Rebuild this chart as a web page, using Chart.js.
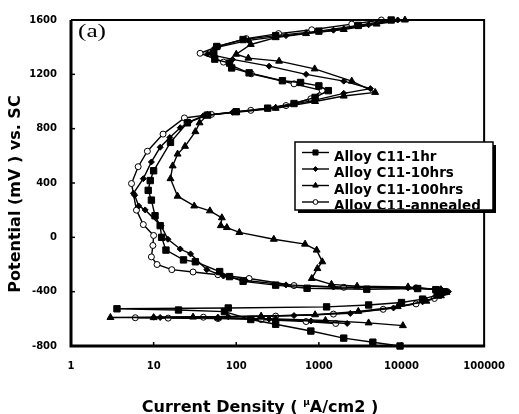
<!DOCTYPE html>
<html>
<head>
<meta charset="utf-8">
<style>
  html, body { margin: 0; padding: 0; background: #fff; }
  #wrap { width: 519px; height: 414px; }
</style>
<script src="https://cdn.jsdelivr.net/npm/chart.js"></script>
</head>
<body>
<div id="wrap"><canvas id="chart" width="519" height="414"></canvas></div>
<script>
// current density in uA/cm2, potential in mV (scan order)
const seriesLabels = ['Alloy C11-1hr', 'Alloy C11-10hrs', 'Alloy C11-100hrs', 'Alloy C11-annealed'];

const hr1Current = [9600, 4500, 2000, 800, 300, 150, 72, 20, 3.6, 80, 1240, 4000, 10000, 18000, 27000, 33000, 26000, 15700, 3800, 720, 300, 121, 83, 63, 32, 23, 14.1, 12.5, 12, 10.4, 9.4, 8.6, 9.1, 10, 16, 25.6, 45, 100, 240, 500, 900, 1300, 1000, 600, 362, 143, 88, 83, 55, 53.5, 58, 121, 300, 1000, 3000, 7500];
const hr1Potential = [-800, -772, -742, -690, -640, -605, -547, -535, -526, -520, -512, -498, -480, -455, -425, -400, -385, -377, -382, -375, -352, -324, -289, -252, -180, -166, -94, 0, 86, 159, 274, 346, 418, 490, 699, 843, 900, 925, 951, 985, 1030, 1080, 1115, 1140, 1153, 1211, 1247, 1283, 1312, 1355, 1405, 1456, 1485, 1518, 1560, 1600];

const hr10Current = [2200, 800, 250, 60, 12, 10, 80, 500, 2400, 8000, 18000, 30000, 37000, 30000, 12000, 1500, 400, 130, 70, 44, 28, 21, 14.9, 12.3, 7.9, 6.6, 5.9, 5.7, 7.5, 9.4, 12, 15.7, 21, 27, 40, 90, 300, 900, 2000, 4200, 2000, 700, 250, 90, 45, 55, 140, 400, 1500, 4000, 9000];
const hr10Potential = [-634, -616, -602, -594, -590, -588, -584, -576, -560, -520, -475, -430, -400, -382, -372, -366, -350, -318, -285, -238, -122, -86, -14, 86, 202, 231, 310, 324, 432, 555, 663, 735, 807, 850, 895, 920, 955, 1010, 1060, 1095, 1150, 1200, 1260, 1310, 1350, 1395, 1450, 1485, 1525, 1565, 1600];

const hr100Current = [10400, 4000, 1200, 300, 60, 10, 3, 30, 200, 900, 3000, 9000, 20000, 30000, 35000, 30000, 12000, 2900, 1420, 820, 960, 1100, 940, 680, 285, 109, 77, 65, 67, 48, 31, 19.5, 16, 17, 19.5, 24, 32, 36, 45, 100, 300, 900, 2000, 4800, 2500, 890, 330, 140, 100, 150, 300, 700, 2000, 5000, 11000];
const hr100Potential = [-650, -630, -612, -600, -594, -591, -590, -587, -580, -570, -545, -510, -470, -430, -405, -385, -365, -360, -346, -303, -230, -180, -94, -50, -14, 36, 72, 86, 144, 195, 231, 303, 432, 526, 613, 670, 778, 843, 900, 920, 950, 1000, 1040, 1067, 1150, 1240, 1297, 1319, 1348, 1420, 1470, 1500, 1530, 1570, 1600];

const annealedCurrent = [1600, 700, 200, 60, 15, 6, 40, 300, 1500, 6000, 15000, 25000, 32000, 28000, 15000, 2000, 500, 143, 60, 30, 16.6, 11, 9.4, 9.8, 10, 7.5, 6.2, 5.4, 6.5, 8.4, 13, 23.6, 50, 150, 400, 800, 1100, 500, 152, 70, 36.5, 60, 132, 325, 820, 2500, 5700];
const annealedPotential = [-634, -620, -605, -598, -595, -592, -588, -580, -565, -530, -490, -450, -410, -385, -372, -368, -355, -303, -275, -255, -238, -200, -144, -60, 14, 94, 200, 396, 520, 634, 760, 879, 905, 935, 970, 1020, 1080, 1130, 1204, 1290, 1355, 1405, 1463, 1500, 1528, 1570, 1600];

const currentTicks = [1, 10, 100, 1000, 10000, 100000];
const potentialTicks = [-800, -400, 0, 400, 800, 1200, 1600];

function pairs(xs, ys) {
  return xs.map((v, i) => ({ x: v, y: ys[i] }));
}

function makeSet(label, xs, ys, style, radius, fill) {
  return {
    label: label,
    data: pairs(xs, ys),
    showLine: true,
    borderColor: '#000',
    borderWidth: 1.4,
    pointStyle: style,
    pointRadius: radius,
    pointBackgroundColor: fill,
    pointBorderColor: '#000',
    pointBorderWidth: 1,
    tension: 0,
    clip: false
  };
}

function drawMarker(ctx, style, x, y, r) {
  ctx.beginPath();
  if (style === 'rect') {
    const s = r * Math.SQRT1_2;
    ctx.rect(x - s, y - s, 2 * s, 2 * s);
  } else if (style === 'rectRot') {
    ctx.moveTo(x, y - r); ctx.lineTo(x + r, y); ctx.lineTo(x, y + r); ctx.lineTo(x - r, y);
    ctx.closePath();
  } else if (style === 'triangle') {
    let a = 0;
    ctx.moveTo(x + Math.sin(a) * r, y - Math.cos(a) * r);
    a += Math.PI * 2 / 3;
    ctx.lineTo(x + Math.sin(a) * r, y - Math.cos(a) * r);
    a += Math.PI * 2 / 3;
    ctx.lineTo(x + Math.sin(a) * r, y - Math.cos(a) * r);
    ctx.closePath();
  } else {
    ctx.arc(x, y, r, 0, Math.PI * 2);
  }
  ctx.fill();
  ctx.stroke();
}

const boldFont = 'DejaVu Sans';

const decorations = {
  id: 'decorations',
  afterDraw(chart) {
    const ctx = chart.ctx;
    const a = chart.chartArea;
    const xs = chart.scales.x, ys = chart.scales.y;
    ctx.save();
    ctx.strokeStyle = '#000';
    ctx.fillStyle = '#000';

    // frame
    ctx.lineWidth = 2;
    ctx.beginPath();
    ctx.moveTo(a.left, a.top); ctx.lineTo(a.right, a.top); ctx.lineTo(a.right, a.bottom);
    ctx.stroke();
    ctx.lineWidth = 3;
    ctx.beginPath();
    ctx.moveTo(a.left, a.top); ctx.lineTo(a.left, a.bottom); ctx.lineTo(a.right + 1, a.bottom);
    ctx.stroke();

    // inward tick marks
    ctx.lineWidth = 1.5;
    currentTicks.slice(1, -1).forEach(v => {
      const px = xs.getPixelForValue(v);
      ctx.beginPath(); ctx.moveTo(px, a.bottom); ctx.lineTo(px, a.bottom - 4); ctx.stroke();
    });
    potentialTicks.slice(1, -1).forEach(v => {
      const py = ys.getPixelForValue(v);
      ctx.beginPath(); ctx.moveTo(a.left, py); ctx.lineTo(a.left + 4, py); ctx.stroke();
    });

    // axis titles
    ctx.save();
    ctx.translate(15.5, 194);
    ctx.rotate(-Math.PI / 2);
    ctx.font = 'bold 16px ' + boldFont;
    ctx.textAlign = 'center';
    ctx.textBaseline = 'middle';
    ctx.fillText('Potential (mV ) vs. SC', 0, 0);
    ctx.restore();

    const big = 'bold 16px ' + boldFont, small = 'bold 9px ' + boldFont;
    const p1 = 'Current Density ( ', mu = '\u00b5', p2 = 'A/cm2 )';
    ctx.font = big;
    const w1 = ctx.measureText(p1).width, w3 = ctx.measureText(p2).width;
    ctx.font = small;
    const w2 = ctx.measureText(mu).width;
    let tx = 260 - (w1 + w2 + w3) / 2;
    const base = 412;
    ctx.textAlign = 'left';
    ctx.textBaseline = 'alphabetic';
    ctx.font = big; ctx.fillText(p1, tx, base); tx += w1;
    ctx.font = small; ctx.fillText(mu, tx, base - 7); tx += w2;
    ctx.font = big; ctx.fillText(p2, tx, base);

    // panel label
    ctx.save();
    ctx.translate(78, 37);
    ctx.scale(1.4, 1);
    ctx.font = '18px "Liberation Serif"';
    ctx.fillText('(a)', 0, 0);
    ctx.restore();

    // legend box with shadow
    const bx = 295, by = 142, bw = 198, bh = 68;
    ctx.fillRect(bx + 3, by + 3, bw, bh);
    ctx.fillStyle = '#fff';
    ctx.fillRect(bx, by, bw, bh);
    ctx.fillStyle = '#000';
    ctx.lineWidth = 1.5;
    ctx.strokeRect(bx, by, bw, bh);

    ctx.save();
    ctx.beginPath();
    ctx.rect(bx + 1, by + 1, bw - 2, bh - 2);
    ctx.clip();
    ctx.font = 'bold 13.5px ' + boldFont;
    chart.data.datasets.forEach((ds, i) => {
      const baseY = 160.5 + i * 16.5;
      const ly = baseY - 8;
      ctx.lineWidth = 1.4;
      ctx.beginPath(); ctx.moveTo(302, ly); ctx.lineTo(329, ly); ctx.stroke();
      ctx.lineWidth = 1;
      ctx.fillStyle = ds.pointBackgroundColor;
      drawMarker(ctx, ds.pointStyle, 315.5, ly, ds.pointRadius * 0.8);
      ctx.fillStyle = '#000';
      ctx.fillText(ds.label, 334, baseY);
    });
    ctx.restore();

    ctx.restore();
  }
};

const tickFont = { family: boldFont, weight: 'bold', size: 10 };

new Chart(document.getElementById('chart'), {
  type: 'scatter',
  data: {
    datasets: [
      makeSet(seriesLabels[0], hr1Current, hr1Potential, 'rect', 4.5, '#000'),
      makeSet(seriesLabels[1], hr10Current, hr10Potential, 'rectRot', 3, '#000'),
      makeSet(seriesLabels[2], hr100Current, hr100Potential, 'triangle', 4, '#000'),
      makeSet(seriesLabels[3], annealedCurrent, annealedPotential, 'circle', 3, '#fff')
    ]
  },
  options: {
    responsive: false,
    animation: false,
    devicePixelRatio: 1,
    layout: { padding: { top: 13, right: 26, left: 0, bottom: 0 } },
    plugins: { legend: { display: false }, tooltip: { enabled: false } },
    scales: {
      x: {
        type: 'logarithmic',
        min: 1,
        max: 100000,
        afterBuildTicks: s => { s.ticks = currentTicks.map(v => ({ value: v })); },
        afterFit: s => { s.height = 68; },
        grid: { display: false, drawTicks: false },
        border: { display: false },
        ticks: { color: '#000', font: tickFont, padding: 14, autoSkip: false, maxRotation: 0, callback: v => String(v) }
      },
      y: {
        type: 'linear',
        min: -800,
        max: 1600,
        afterBuildTicks: s => { s.ticks = potentialTicks.map(v => ({ value: v })); },
        afterFit: s => { s.width = 71; },
        grid: { display: false, drawTicks: false },
        border: { display: false },
        ticks: { color: '#000', font: tickFont, padding: 14, callback: v => String(v) }
      }
    }
  },
  plugins: [decorations]
});
</script>
</body>
</html>
